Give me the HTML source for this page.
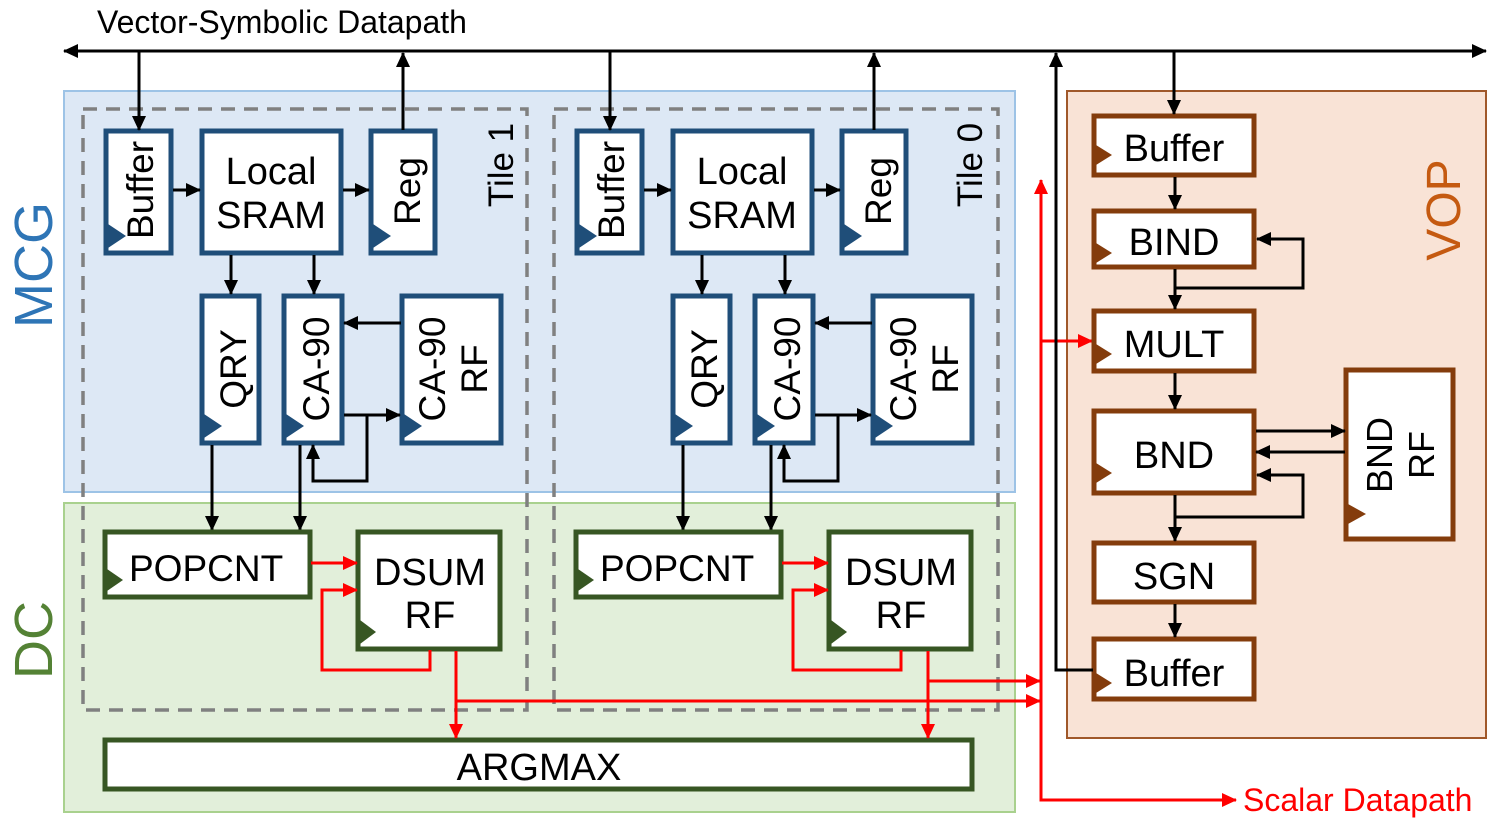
<!DOCTYPE html>
<html><head><meta charset="utf-8"><style>
html,body{margin:0;padding:0;background:#fff;}
svg{display:block;font-family:"Liberation Sans",Arial,sans-serif;}
</style></head><body>
<svg width="1494" height="825" viewBox="0 0 1494 825" xmlns="http://www.w3.org/2000/svg">
<defs>
<marker id="ab" markerUnits="userSpaceOnUse" markerWidth="16" markerHeight="16" refX="14" refY="8" orient="auto"><path d="M0,1 L15,8 L0,15 z" fill="#000"/></marker>
<marker id="ar" markerUnits="userSpaceOnUse" markerWidth="16" markerHeight="16" refX="14" refY="8" orient="auto"><path d="M0,1 L15,8 L0,15 z" fill="#f00"/></marker>
</defs>

<rect x="64" y="91" width="951" height="401" fill="#dde8f5" stroke="#9dc3e6" stroke-width="2"/>
<rect x="64" y="503" width="951" height="309" fill="#e2efda" stroke="#a9d18e" stroke-width="2"/>
<rect x="1067" y="91" width="419" height="647" fill="#f9e3d6" stroke="#a0582a" stroke-width="2"/>

<text font-size="54" fill="#2e75b6" text-anchor="middle" transform="translate(52,265) rotate(-90)">MCG</text>
<text font-size="54" fill="#548235" text-anchor="middle" transform="translate(52,640) rotate(-90)">DC</text>
<text font-size="48" fill="#c55a11" text-anchor="middle" transform="translate(1460,210) rotate(-90)">VOP</text>

<text x="97" y="33" font-size="32">Vector-Symbolic Datapath</text>
<line x1="64" y1="51" x2="1486" y2="51" stroke="#000" stroke-width="3" marker-end="url(#ab)"/>
<line x1="1400" y1="51" x2="64" y2="51" stroke="#000" stroke-width="3" marker-end="url(#ab)"/>

<g id="tile">
<rect x="83" y="109" width="444" height="601" fill="none" stroke="#808080" stroke-width="3.5" stroke-dasharray="14,9"/>
<g stroke="#1f4e79" stroke-width="5" fill="#fff">
<rect x="106" y="131" width="65" height="122"/>
<rect x="202" y="131" width="139" height="122"/>
<rect x="371" y="131" width="64" height="122"/>
<rect x="202" y="296" width="57" height="147"/>
<rect x="284" y="296" width="58" height="147"/>
<rect x="402" y="296" width="99" height="147"/>
</g>
<g fill="#1f4e79">
<polygon points="108,224 126,236 108,248"/>
<polygon points="373,224 391,236 373,248"/>
<polygon points="204,414 222,426 204,438"/>
<polygon points="286,414 304,426 286,438"/>
<polygon points="404,414 422,426 404,438"/>
</g>
<text font-size="37" text-anchor="middle" transform="translate(153,190) rotate(-90)">Buffer</text>
<text font-size="38" text-anchor="middle" x="271" y="184">Local</text>
<text font-size="38" text-anchor="middle" x="271" y="228">SRAM</text>
<text font-size="37" text-anchor="middle" transform="translate(420,191) rotate(-90)">Reg</text>
<text font-size="37" text-anchor="middle" transform="translate(246,369) rotate(-90)">QRY</text>
<text font-size="37" text-anchor="middle" transform="translate(329,369) rotate(-90)">CA-90</text>
<text font-size="37" text-anchor="middle" transform="translate(445,369) rotate(-90)">CA-90</text>
<text font-size="37" text-anchor="middle" transform="translate(487,369) rotate(-90)">RF</text>
<g stroke="#000" stroke-width="3" fill="none">
<line x1="139" y1="51" x2="139" y2="130" marker-end="url(#ab)"/>
<line x1="403" y1="130" x2="403" y2="53" marker-end="url(#ab)"/>
<line x1="173" y1="190" x2="200" y2="190" marker-end="url(#ab)"/>
<line x1="343" y1="190" x2="369" y2="190" marker-end="url(#ab)"/>
<line x1="231" y1="255" x2="231" y2="294" marker-end="url(#ab)"/>
<line x1="314" y1="255" x2="314" y2="294" marker-end="url(#ab)"/>
<line x1="401" y1="323" x2="344" y2="323" marker-end="url(#ab)"/>
<line x1="344" y1="415" x2="400" y2="415" marker-end="url(#ab)"/>
<polyline points="367,415 367,481 313,481 313,445" marker-end="url(#ab)"/>
<line x1="212" y1="445" x2="212" y2="530" marker-end="url(#ab)"/>
<line x1="300" y1="445" x2="300" y2="530" marker-end="url(#ab)"/>
</g>
<g stroke="#375623" stroke-width="5" fill="#fff">
<rect x="105" y="532" width="205" height="65"/>
<rect x="358" y="532" width="142" height="117"/>
</g>
<g fill="#375623">
<polygon points="107,569 123,580 107,591"/>
<polygon points="360,620 376,632 360,644"/>
</g>
<text font-size="37" x="129" y="581">POPCNT</text>
<text font-size="38" text-anchor="middle" x="430" y="585">DSUM</text>
<text font-size="38" text-anchor="middle" x="430" y="628">RF</text>
<g stroke="#f00" stroke-width="3" fill="none">
<line x1="311" y1="563" x2="357" y2="563" marker-end="url(#ar)"/>
<polyline points="430,650 430,670 322,670 322,590 357,590" marker-end="url(#ar)"/>
</g>
</g>
<use href="#tile" transform="translate(471,0)"/>
<text font-size="35" text-anchor="middle" transform="translate(513,165) rotate(-90)">Tile 1</text>
<text font-size="35" text-anchor="middle" transform="translate(982,165) rotate(-90)">Tile 0</text>

<rect x="105" y="740" width="867" height="49" fill="#fff" stroke="#375623" stroke-width="5"/>
<text font-size="38" text-anchor="middle" x="539" y="780">ARGMAX</text>

<g stroke="#f00" stroke-width="3" fill="none">
<line x1="456" y1="651" x2="456" y2="738" marker-end="url(#ar)"/>
<line x1="456" y1="701" x2="1040" y2="701" marker-end="url(#ar)"/>
<line x1="928" y1="651" x2="928" y2="738" marker-end="url(#ar)"/>
<line x1="928" y1="681" x2="1040" y2="681" marker-end="url(#ar)"/>
<polyline points="1041,182 1041,800 1236,800"/>
<line x1="1041" y1="250" x2="1041" y2="180" marker-end="url(#ar)"/>
<line x1="1180" y1="800" x2="1236" y2="800" marker-end="url(#ar)"/>
<line x1="1041" y1="341" x2="1092" y2="341" marker-end="url(#ar)"/>
</g>
<text x="1243" y="811" font-size="32" fill="#f00">Scalar Datapath</text>

<g stroke="#843c0c" stroke-width="5" fill="#fff">
<rect x="1094" y="116" width="160" height="59"/>
<rect x="1094" y="211" width="160" height="56"/>
<rect x="1094" y="311" width="160" height="60"/>
<rect x="1094" y="411" width="160" height="82"/>
<rect x="1094" y="543" width="160" height="59"/>
<rect x="1094" y="639" width="160" height="60"/>
<rect x="1346" y="370" width="107" height="169"/>
</g>
<g fill="#843c0c">
<polygon points="1096,145 1112,155 1096,165"/>
<polygon points="1096,243 1112,253 1096,263"/>
<polygon points="1096,344 1112,354 1096,364"/>
<polygon points="1096,463 1112,473 1096,483"/>
<polygon points="1096,673 1112,683 1096,693"/>
<polygon points="1348,504 1366,514 1348,524"/>
</g>
<g font-size="38" text-anchor="middle">
<text x="1174" y="161">Buffer</text>
<text x="1174" y="255">BIND</text>
<text x="1174" y="357">MULT</text>
<text x="1174" y="468">BND</text>
<text x="1174" y="589">SGN</text>
<text x="1174" y="686">Buffer</text>
</g>
<text font-size="36" text-anchor="middle" transform="translate(1392,455) rotate(-90)">BND</text>
<text font-size="36" text-anchor="middle" transform="translate(1434,455) rotate(-90)">RF</text>
<g stroke="#000" stroke-width="3" fill="none">
<line x1="1174" y1="51" x2="1174" y2="114" marker-end="url(#ab)"/>
<line x1="1175" y1="177" x2="1175" y2="209" marker-end="url(#ab)"/>
<line x1="1175" y1="269" x2="1175" y2="309" marker-end="url(#ab)"/>
<polyline points="1175,288 1303,288 1303,239 1257,239" marker-end="url(#ab)"/>
<line x1="1175" y1="373" x2="1175" y2="409" marker-end="url(#ab)"/>
<line x1="1256" y1="431" x2="1345" y2="431" marker-end="url(#ab)"/>
<line x1="1345" y1="452" x2="1256" y2="452" marker-end="url(#ab)"/>
<line x1="1175" y1="495" x2="1175" y2="541" marker-end="url(#ab)"/>
<polyline points="1175,517 1303,517 1303,475 1257,475" marker-end="url(#ab)"/>
<line x1="1175" y1="604" x2="1175" y2="637" marker-end="url(#ab)"/>
<polyline points="1093,670 1056,670 1056,53" marker-end="url(#ab)"/>
</g>
</svg>
</body></html>
